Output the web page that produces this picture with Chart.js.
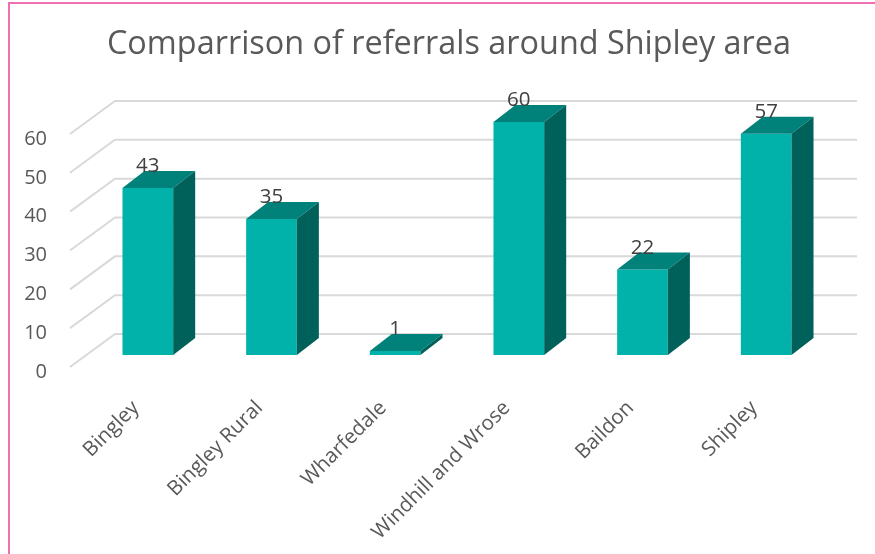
<!DOCTYPE html>
<html lang="en">
<head>
    <meta charset="UTF-8">
    <title>Comparrison of referrals around Shipley area</title>
    <script src="https://cdn.jsdelivr.net/npm/chart.js"></script>
    <style>
        body, html {
            margin: 0;
            padding: 0;
            background: #ffffff;
            overflow: hidden;
        }

        .frame {
            position: absolute;
            left: 8px;
            top: 2px;
            width: 900px;
            height: 600px;
            border-left: 2px solid #ef6fb4;
            border-top: 2px solid #ef6fb4;
        }

        #chart {
            position: absolute;
            left: 0;
            top: 0;
        }
    </style>
</head>
<body>
    <div class="frame"></div>
    <canvas id="chart" width="875" height="554"></canvas>

    <script>
        // data
        const areas = ['Bingley', 'Bingley Rural', 'Wharfedale', 'Windhill and Wrose', 'Baildon', 'Shipley'];
        const referrals = [43, 35, 1, 60, 22, 57];
        const yTicks = [0, 10, 20, 30, 40, 50, 60];

        // 3D look: depth of the bars and of the back wall (px)
        const barDepth = { dx: 22, dy: -17 };
        const wallBack = { dx: 29, dy: -21 };
        const wallFront = { dx: -16, dy: 12 };

        const frontColor = '#00b2aa';
        const topColor = '#00827a';
        const sideColor = '#00605a';
        const font = "'Open Sans'";

        const box3d = {
            id: 'box3d',
            beforeDatasetsDraw(chart) {
                const ctx = chart.ctx;
                const y = chart.scales.y;
                const area = chart.chartArea;
                ctx.save();
                ctx.strokeStyle = '#d9d9d9';
                ctx.lineWidth = 2;
                yTicks.forEach(v => {
                    const py = y.getPixelForValue(v);
                    ctx.beginPath();
                    ctx.moveTo(area.left + wallFront.dx, py + wallFront.dy);
                    ctx.lineTo(area.left + wallBack.dx, py + wallBack.dy);
                    ctx.lineTo(area.right + wallBack.dx, py + wallBack.dy);
                    ctx.stroke();
                });
                ctx.restore();
            },
            afterDatasetsDraw(chart) {
                const ctx = chart.ctx;
                const meta = chart.getDatasetMeta(0);
                ctx.save();
                meta.data.forEach((bar, i) => {
                    const p = bar.getProps(['x', 'y', 'base', 'width'], true);
                    const l = p.x - p.width / 2;
                    const r = p.x + p.width / 2;
                    // top face
                    ctx.fillStyle = topColor;
                    ctx.beginPath();
                    ctx.moveTo(l, p.y);
                    ctx.lineTo(r, p.y);
                    ctx.lineTo(r + barDepth.dx, p.y + barDepth.dy);
                    ctx.lineTo(l + barDepth.dx, p.y + barDepth.dy);
                    ctx.closePath();
                    ctx.fill();
                    // side face
                    ctx.fillStyle = sideColor;
                    ctx.beginPath();
                    ctx.moveTo(r, p.y);
                    ctx.lineTo(r + barDepth.dx, p.y + barDepth.dy);
                    ctx.lineTo(r + barDepth.dx, p.base + barDepth.dy);
                    ctx.lineTo(r, p.base);
                    ctx.closePath();
                    ctx.fill();
                    // value label
                    ctx.fillStyle = '#404040';
                    ctx.font = '20.5px ' + font;
                    ctx.textAlign = 'center';
                    ctx.textBaseline = 'alphabetic';
                    ctx.fillText(referrals[i], p.x, p.y + barDepth.dy + 1);
                });
                ctx.restore();
            }
        };

        new Chart(document.getElementById('chart').getContext('2d'), {
            type: 'bar',
            data: {
                labels: areas,
                datasets: [{
                    data: referrals,
                    backgroundColor: frontColor,
                    borderWidth: 0,
                    categoryPercentage: 1,
                    barPercentage: 0.41
                }]
            },
            options: {
                responsive: false,
                animation: false,
                devicePixelRatio: 1,
                layout: {
                    padding: { left: 23, right: 0, top: 0, bottom: 0 }
                },
                plugins: {
                    legend: { display: false },
                    tooltip: { enabled: false },
                    title: {
                        display: true,
                        text: 'Comparrison of referrals around Shipley area',
                        color: '#595959',
                        font: { family: font, size: 32.4, weight: 'normal', lineHeight: 1.2 },
                        padding: { top: 25, bottom: 58.1 }
                    }
                },
                scales: {
                    x: {
                        grid: { display: false, drawTicks: false },
                        border: { display: false },
                        ticks: {
                            color: '#595959',
                            font: { family: font, size: 20.5 },
                            minRotation: 45,
                            maxRotation: 45,
                            autoSkip: false,
                            padding: 41,
                            labelOffset: -12
                        },
                        afterFit(scale) { scale.height = 199; }
                    },
                    y: {
                        min: 0,
                        max: 60,
                        grid: { display: false, drawTicks: false },
                        border: { display: false },
                        afterBuildTicks(scale) {
                            scale.ticks = yTicks.map(v => ({ value: v }));
                        },
                        ticks: {
                            color: '#595959',
                            font: { family: font, size: 20 },
                            padding: 39,
                            labelOffset: 17
                        },
                        afterFit(scale) { scale.width = 63; }
                    },
                    // empty right-hand strip, keeps the plot clear of the right edge
                    yRight: {
                        position: 'right',
                        grid: { display: false },
                        border: { display: false },
                        ticks: { display: false },
                        afterFit(scale) { scale.width = 47; }
                    }
                }
            },
            plugins: [box3d]
        });
    </script>
</body>
</html>
